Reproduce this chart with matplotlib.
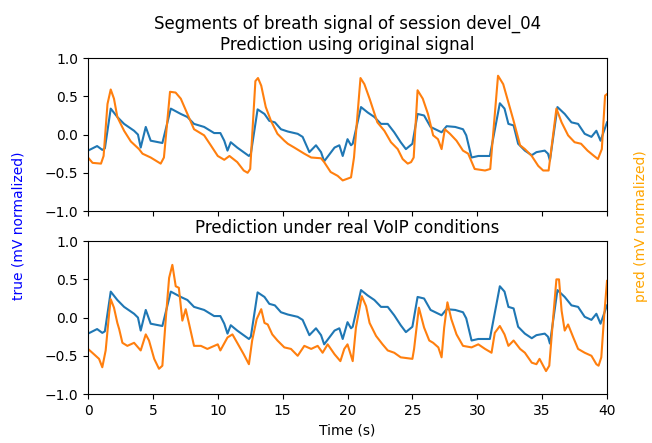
import numpy as np
import matplotlib
matplotlib.use("Agg")
import matplotlib.pyplot as plt

# true signal (same in both panels)
t_true = [0, 0.7, 1.1, 1.3, 1.75, 2.26, 2.78, 3.55, 3.85, 4.06, 4.45, 4.83, 5.73, 6.38,
          7.15, 7.66, 8.17, 8.95, 9.72, 10.2, 10.5, 10.75, 11.0, 11.5, 12.4, 12.55, 13.07,
          13.6, 13.97, 14.4, 14.87, 15.4, 16.16, 16.54, 17.06, 17.57, 17.96, 18.2, 19.0,
          19.37, 19.63, 20.0, 20.27, 20.4, 21.04, 21.55, 22.07, 22.58, 23.1, 23.6, 24.1,
          24.5, 25.0, 25.4, 25.9, 26.4, 27.25, 27.64, 28.3, 28.9, 29.15, 29.56, 30.08,
          30.97, 31.74, 32.1, 32.4, 32.8, 33.15, 33.67, 34.2, 34.56, 35.2, 35.45, 35.6,
          36.18, 36.74, 37.26, 37.77, 38.28, 38.8, 39.18, 39.5, 40.0]
true_vals = [-0.21, -0.15, -0.2, -0.18, 0.34, 0.23, 0.14, 0.05, 0.0, -0.17, 0.1, -0.08, -0.11, 0.34,
             0.27, 0.23, 0.14, 0.1, 0.02, 0.02, -0.08, -0.21, -0.1, -0.17, -0.28, -0.25, 0.33,
             0.27, 0.18, 0.16, 0.07, 0.04, 0.01, -0.03, -0.23, -0.14, -0.23, -0.35, -0.17,
             -0.14, -0.28, -0.06, -0.14, -0.12, 0.36, 0.29, 0.23, 0.14, 0.14, 0.03, -0.1,
             -0.19, -0.12, 0.27, 0.25, 0.1, 0.03, 0.11, 0.1, 0.07, -0.01, -0.3, -0.28,
             -0.28, 0.41, 0.34, 0.14, 0.12, -0.12, -0.21, -0.27, -0.23, -0.21, -0.25, -0.34,
             0.36, 0.27, 0.16, 0.14, 0.01, -0.03, 0.05, -0.08, 0.16]

# prediction using original signal
t_pred_orig = [0, 0.35, 1.0, 1.2, 1.5, 1.75, 2.0, 2.26, 2.78, 3.3, 3.93, 4.2, 4.83, 5.6, 5.85,
               6.32, 6.75, 7.15, 7.66, 8.17, 8.95, 9.46, 10.0, 10.5, 10.9, 11.5, 12.0, 12.3,
               12.5, 12.9, 13.1, 13.35, 13.7, 14.1, 14.6, 15.13, 15.4, 15.9, 16.67, 17.2,
               17.96, 18.2, 18.7, 19.24, 19.63, 20.27, 20.5, 21.0, 21.3, 21.7, 22.3, 22.84,
               23.35, 23.87, 24.25, 24.64, 24.9, 25.1, 25.4, 25.8, 26.2, 26.6, 26.97, 27.25,
               27.5, 27.9, 28.4, 28.9, 29.3, 29.8, 30.6, 31.0, 31.6, 32.0, 32.4, 32.8, 33.3,
               33.67, 34.2, 34.7, 35.08, 35.5, 36.1, 36.5, 37.0, 37.5, 38.0, 38.5, 39.0,
               39.3, 39.6, 39.85, 40.0]
pred_orig = [-0.3, -0.37, -0.38, -0.28, 0.4, 0.59, 0.47, 0.23, 0.05, -0.09, -0.19, -0.25, -0.3, -0.38, -0.3,
             0.56, 0.55, 0.47, 0.27, 0.07, -0.01, -0.14, -0.28, -0.33, -0.28, -0.36, -0.47, -0.5,
             -0.45, 0.7, 0.74, 0.64, 0.36, 0.18, 0.01, -0.08, -0.12, -0.17, -0.25, -0.3,
             -0.31, -0.36, -0.49, -0.54, -0.6, -0.56, -0.3, 0.74, 0.66, 0.47, 0.16, 0.05,
             -0.1, -0.19, -0.32, -0.38, -0.36, -0.3, 0.58, 0.47, 0.27, -0.01, -0.06, -0.19,
             0.07, 0.01, -0.08, -0.21, -0.25, -0.45, -0.47, -0.45, 0.77, 0.66, 0.42, 0.18, -0.14,
             -0.19, -0.28, -0.41, -0.47, -0.47, 0.34, 0.16, -0.01, -0.1, -0.12, -0.21, -0.28,
             -0.32, -0.19, 0.51, 0.53]

# prediction under real VoIP conditions
t_pred_voip = [0, 0.46, 0.85, 1.1, 1.36, 1.62, 1.75, 2.0, 2.26, 2.4, 2.65, 3.03, 3.55, 4.06,
               4.45, 4.7, 5.1, 5.47, 5.73, 6.0, 6.25, 6.5, 6.76, 7.0, 7.27, 7.53, 7.8, 8.17,
               8.7, 9.2, 10.0, 10.2, 10.75, 11.13, 11.5, 12.0, 12.4, 12.65, 13.0, 13.35, 13.6,
               13.85, 14.2, 14.6, 15.13, 15.64, 16.16, 16.67, 17.2, 17.7, 18.08, 18.47, 19.0,
               19.45, 19.75, 20.0, 20.4, 20.65, 21.1, 21.43, 21.7, 22.2, 22.7, 23.1, 23.6,
               24.1, 25.0, 25.13, 25.5, 25.9, 26.3, 26.6, 27.0, 27.25, 27.45, 27.7, 28.0,
               28.4, 28.9, 29.56, 30.08, 30.6, 31.1, 31.35, 31.74, 32.1, 32.4, 32.8, 33.3,
               33.67, 34.2, 34.56, 34.8, 35.08, 35.3, 35.55, 35.85, 36.1, 36.3, 36.5, 36.74,
               37.0, 37.4, 37.77, 38.28, 38.8, 39.18, 39.35, 39.56, 39.77, 40.0]
pred_voip = [-0.41, -0.48, -0.54, -0.65, -0.43, 0.04, 0.24, 0.13, -0.07, -0.15, -0.33, -0.37, -0.33, -0.43,
             -0.22, -0.3, -0.54, -0.67, -0.63, 0.0, 0.52, 0.69, 0.41, 0.39, -0.04, 0.11, -0.09, -0.37,
             -0.37, -0.41, -0.35, -0.43, -0.26, -0.22, -0.33, -0.48, -0.61, -0.3, -0.02, 0.11, -0.07,
             -0.09, -0.22, -0.3, -0.39, -0.41, -0.5, -0.37, -0.41, -0.37, -0.46, -0.35, -0.48,
             -0.57, -0.41, -0.35, -0.57, -0.13, 0.28, 0.15, -0.07, -0.24, -0.35, -0.43, -0.46,
             -0.52, -0.54, -0.41, 0.13, -0.13, -0.3, -0.33, -0.39, -0.52, -0.13, 0.2, -0.02,
             -0.22, -0.37, -0.39, -0.35, -0.41, -0.46, -0.2, -0.11, -0.22, -0.37, -0.3, -0.41,
             -0.46, -0.59, -0.61, -0.54, -0.63, -0.7, -0.63, 0.0, 0.5, 0.5, 0.09, -0.17,
             -0.09, -0.26, -0.41, -0.46, -0.5, -0.61, -0.63, -0.52, 0.0, 0.48]

title_top = "Segments of breath signal of session devel_04\nPrediction using original signal"
title_bottom = "Prediction under real VoIP conditions"

fig = plt.figure(figsize=(6.52, 4.43), dpi=100)
ax1 = fig.add_axes([0.135, 0.5237, 0.796, 0.345])
ax2 = fig.add_axes([0.135, 0.1106, 0.796, 0.345], sharex=ax1)

for ax, tp, pv, title in [(ax1, t_pred_orig, pred_orig, title_top),
                          (ax2, t_pred_voip, pred_voip, title_bottom)]:
    ax.plot(t_true, true_vals, color="#1f77b4", lw=1.5)
    ax.plot(tp, pv, color="#ff7f0e", lw=1.5)
    ax.set_ylim(-1.0, 1.0)
    ax.set_yticks([-1.0, -0.5, 0.0, 0.5, 1.0])
    ax.set_title(title, fontsize=12)

ax1.set_xlim(0, 40)
ax1.set_xticks(range(0, 41, 5))
plt.setp(ax1.get_xticklabels(), visible=False)
ax2.set_xlabel("Time (s)")

fig.text(0.028, 0.49, "true (mV normalized)", color="blue", rotation=90,
         va="center", ha="center", fontsize=10)
fig.text(0.983, 0.49, "pred (mV normalized)", color="orange", rotation=90,
         va="center", ha="center", fontsize=10)

fig.savefig("out.png", dpi=100)
